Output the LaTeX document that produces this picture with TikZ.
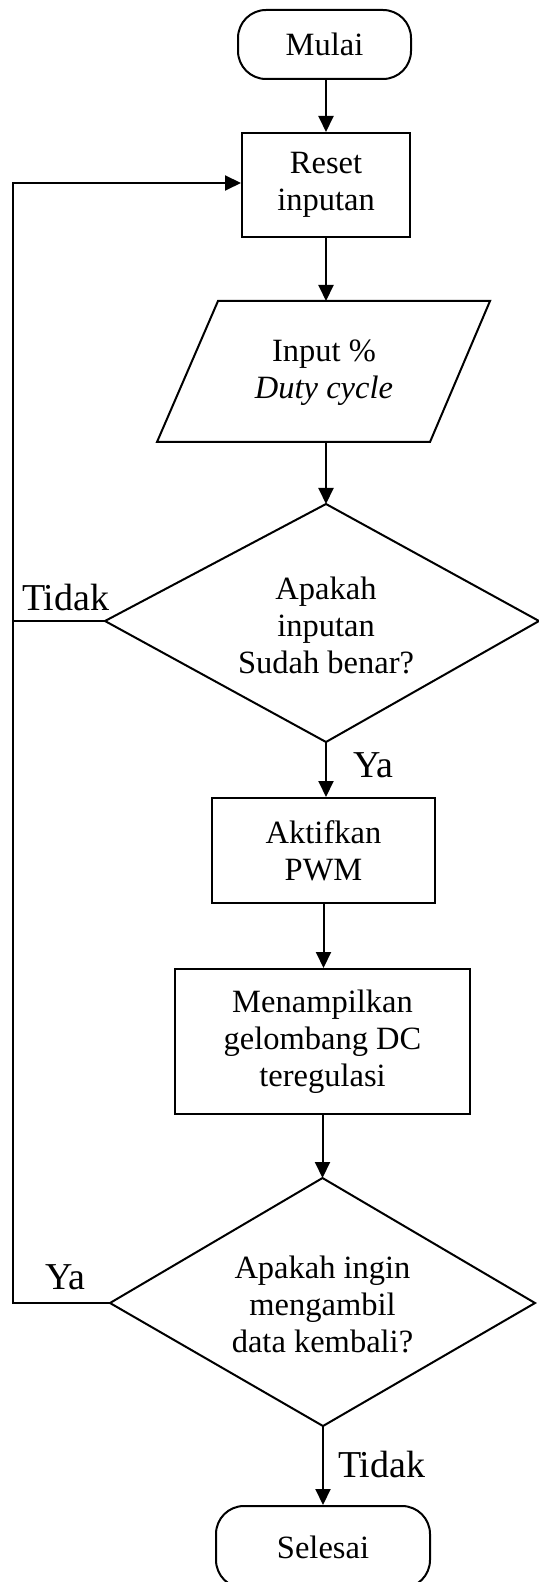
\documentclass[tikz,border=0pt]{standalone}
\usepackage{fontspec}
\setmainfont{Liberation Serif}
\usetikzlibrary{arrows.meta}
\begin{document}
\begin{tikzpicture}[x=0.5pt,y=-0.5pt, line width=1pt,
  arr/.style={-{Triangle[length=8pt,width=7.5pt]}},
  txt/.style={font=\fontsize{16.25}{18.5}\selectfont, align=center, inner sep=0pt},
  box/.style={draw, txt},
  term/.style={draw, txt, rounded corners=14pt},
  lab/.style={font=\fontsize{19}{22}\selectfont, inner sep=0pt, anchor=base west}]
\useasboundingbox (0,0) rectangle (539,1582);

% terminals and process boxes
\node[term, minimum width=86.5pt, minimum height=34.5pt] (mulai) at (324.5,44.5) {Mulai};
\node[box, minimum width=84pt, minimum height=52pt] (reset) at (326,185) {Reset\\inputan};
\node[box, minimum width=111.5pt, minimum height=52.5pt] (aktif) at (323.5,850.5) {Aktifkan\\PWM};
\node[box, minimum width=147.5pt, minimum height=72.5pt] (tampil) at (322.5,1041.5) {Menampilkan\\gelombang DC\\teregulasi};
\node[term, minimum width=107pt, minimum height=41pt] (selesai) at (323,1547) {Selesai};

% input parallelogram
\coordinate (inTL) at (218,301);
\coordinate (inTR) at (490,301);
\coordinate (inBR) at (430,442);
\coordinate (inBL) at (157,442);
\coordinate (inT) at (326,301);
\coordinate (inB) at (326,442);
\draw (inTL) -- (inTR) -- (inBR) -- (inBL) -- cycle;
\node[txt] (input) at (324,373) {Input \%\\\textit{Duty cycle}};

% decision 1
\coordinate (d1t) at (326,504);
\coordinate (d1r) at (539,621);
\coordinate (d1b) at (326,742);
\coordinate (d1l) at (105,621);
\draw (d1t) -- (d1r) -- (d1b) -- (d1l) -- cycle;
\node[txt] (q1) at (326,625) {Apakah\\inputan\\Sudah benar?};

% decision 2
\coordinate (d2t) at (322.5,1178);
\coordinate (d2r) at (535,1303);
\coordinate (d2b) at (323,1426);
\coordinate (d2l) at (110,1303);
\draw (d2t) -- (d2r) -- (d2b) -- (d2l) -- cycle;
\node[txt] (q2) at (322.5,1304) {Apakah ingin\\mengambil\\data kembali?};

% connectors
\draw[arr] (reset.north |- mulai.south) -- (reset.north);
\draw[arr] (reset.south) -- (inT);
\draw[arr] (inB) -- (d1t);
\draw[arr] (d1b) -- (d1b |- aktif.north);
\draw[arr] (aktif.south) -- (aktif.south |- tampil.north);
\draw[arr] (tampil.south) -- (d2t);
\draw[arr] (d2b) -- (d2b |- selesai.north);

\coordinate (lp) at (13,183);
\draw[arr] (d2l) -| (lp) -- (lp -| reset.west);
\draw (d1l) -- (d1l -| lp);

% labels
\node[lab] (t1) at (21,610) {Tidak};
\node[lab] (y1) at (352,777) {Ya};
\node[lab] (y2) at (44,1289) {Ya};
\node[lab] (t2) at (337,1477) {Tidak};
\end{tikzpicture}
\end{document}
